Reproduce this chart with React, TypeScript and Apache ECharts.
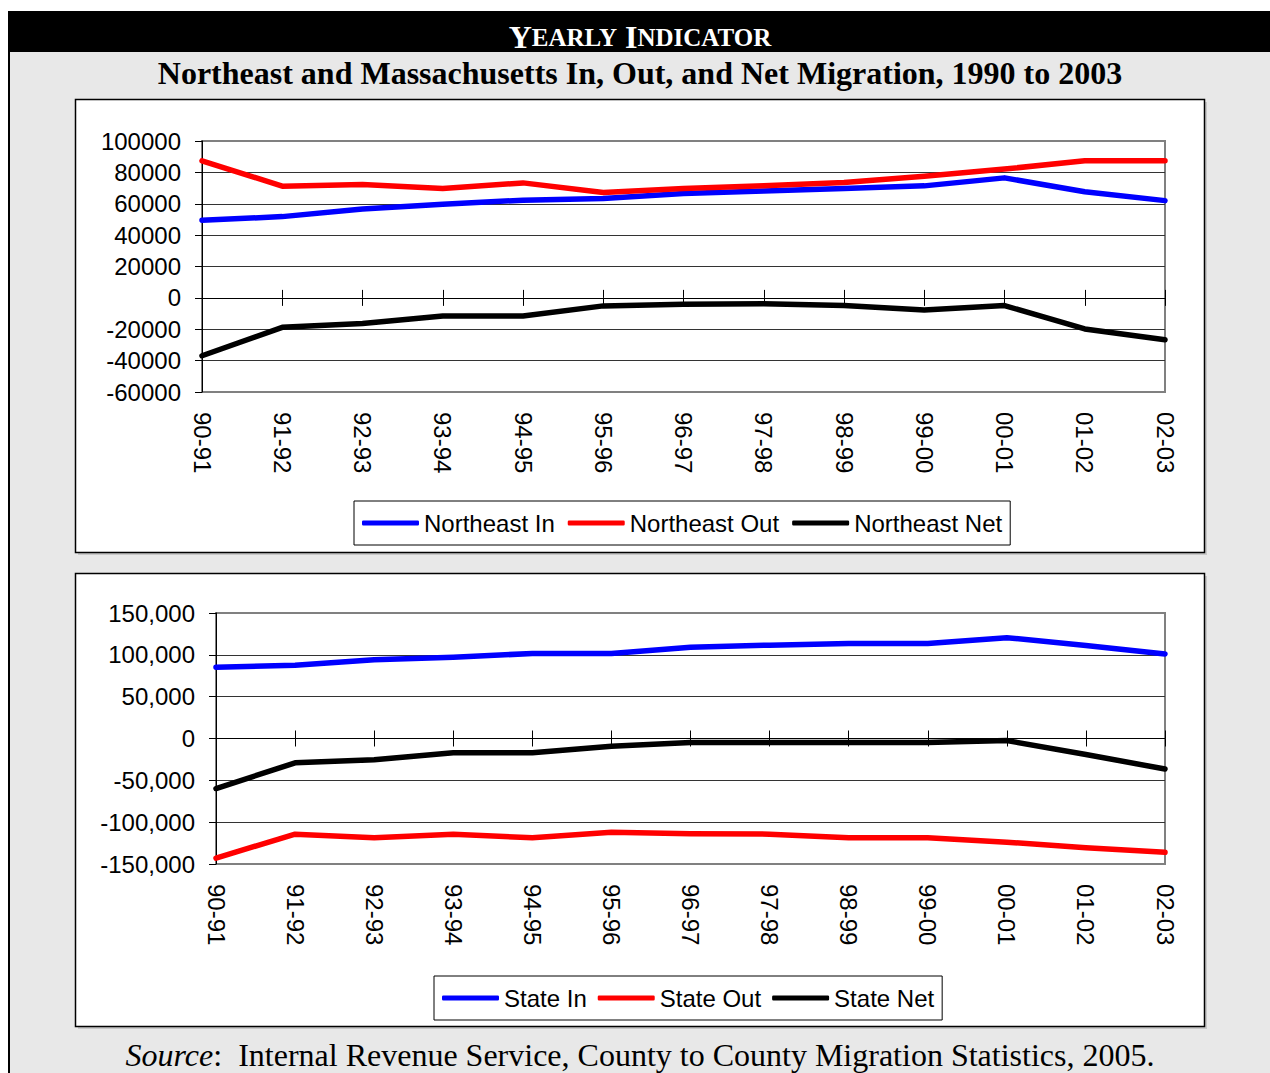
import React, { useEffect, useRef } from "react";
import * as echarts from "echarts";

const categories = ["90-91", "91-92", "92-93", "93-94", "94-95", "95-96", "96-97", "97-98", "98-99", "99-00", "00-01", "01-02", "02-03"];

const northeastIn = [49500, 51800, 56700, 59700, 62300, 63300, 66500, 68200, 69700, 71400, 76500, 67600, 62000];
const northeastOut = [87400, 71200, 72300, 69700, 73300, 67200, 69700, 71400, 73600, 77600, 82100, 87400, 87400];
const northeastNet = [-36900, -18800, -16400, -11500, -11500, -5100, -4100, -3800, -4900, -7700, -4900, -19800, -26700];

const stateIn = [85300, 87600, 94000, 97200, 101600, 101600, 109200, 111600, 113500, 113500, 120500, 111200, 101000];
const stateOut = [-143000, -114300, -118700, -114300, -118700, -112000, -113900, -114300, -118700, -118700, -123900, -130700, -136000];
const stateNet = [-59800, -29100, -25500, -17100, -17100, -9200, -4800, -4800, -4800, -4800, -2500, -19100, -36500];

const topTicks = { min: -60000, max: 100000, interval: 20000 };
const bottomTicks = { min: -150000, max: 150000, interval: 50000 };

const SANS = "Liberation Sans";
const SERIF = "Liberation Serif";
const BLUE = "#0000ff";
const RED = "#ff0000";
const BLACK = "#000000";

function xAxes(gridIndex: number, hiddenY: number) {
  return [
    {
      gridIndex,
      type: "category",
      data: categories,
      boundaryGap: false,
      position: "bottom",
      axisLine: { show: false, onZero: false },
      axisTick: { show: false },
      splitLine: { show: false },
      axisLabel: { rotate: -90, margin: 20, fontSize: 24, fontFamily: SANS, color: "#000" },
    },
    {
      gridIndex,
      type: "category",
      data: categories,
      boundaryGap: false,
      position: "bottom",
      axisLine: { show: true, onZero: true, lineStyle: { color: "#000", width: 1 } },
      axisTick: { show: true, length: 8, lineStyle: { color: "#000", width: 1 } },
      axisLabel: { show: false },
      splitLine: { show: false },
    },
    {
      gridIndex,
      type: "category",
      data: categories,
      boundaryGap: false,
      position: "top",
      axisLine: { show: false, onZero: true, onZeroAxisIndex: hiddenY },
      axisTick: { show: true, length: 8, lineStyle: { color: "#000", width: 1 } },
      axisLabel: { show: false },
      splitLine: { show: false },
    },
  ];
}

function yAxis(gridIndex: number, ticks: { min: number; max: number; interval: number }, fmt?: (v: number) => string) {
  return {
    gridIndex,
    type: "value",
    position: "left",
    min: ticks.min,
    max: ticks.max,
    interval: ticks.interval,
    axisLine: { show: true, onZero: false, lineStyle: { color: "#000", width: 1 } },
    axisTick: { show: true, length: 7, lineStyle: { color: "#000" } },
    axisLabel: {
      fontSize: 24,
      fontFamily: SANS,
      color: "#000",
      margin: 21,
      formatter: fmt ? (v: number) => fmt(v) : (v: number) => String(v),
    },
    splitLine: { show: true, showMinLine: false, showMaxLine: false, lineStyle: { color: "#333", width: 1 } },
  };
}

function hiddenYAxis(gridIndex: number, ticks: { min: number; max: number; interval: number }) {
  return {
    gridIndex,
    type: "value",
    position: "right",
    min: ticks.min,
    max: ticks.max,
    interval: ticks.interval,
    show: false,
    axisLine: { show: false, onZero: false },
    axisTick: { show: false },
    axisLabel: { show: false },
    splitLine: { show: false },
  };
}

function lineSeries(name: string, data: number[], color: string, axisBase: number, yIndex: number) {
  return {
    name,
    type: "line",
    data,
    xAxisIndex: axisBase,
    yAxisIndex: yIndex,
    symbol: "none",
    showSymbol: false,
    smooth: false,
    color,
    lineStyle: { color, width: 5.5, cap: "round", join: "round" },
  };
}

function legend(names: string[], left: number, top: number, gap: number) {
  return {
    data: names,
    left,
    top,
    orient: "horizontal",
    icon: "roundRect",
    itemWidth: 57,
    itemHeight: 5,
    itemGap: gap,
    padding: [10, 8, 10, 8],
    borderColor: "#000",
    borderWidth: 1,
    backgroundColor: "#fff",
    textStyle: { fontSize: 24, fontFamily: SANS, color: "#000", lineHeight: 24 },
  };
}

export default function App() {
  const ref = useRef<HTMLDivElement>(null);

  useEffect(() => {
    if (!ref.current) return;
    const chart = echarts.init(ref.current, undefined, { renderer: "svg" });
    const fmtComma = (v: number) => v.toLocaleString("en-US");

    const option: any = {
      animation: false,
      grid: [
        { left: 202, top: 141, width: 963, height: 251, show: true, borderColor: "#808080", borderWidth: 2, backgroundColor: "transparent", containLabel: false, outerBoundsMode: "none" },
        { left: 216, top: 613, width: 949, height: 251, show: true, borderColor: "#808080", borderWidth: 2, backgroundColor: "transparent", containLabel: false, outerBoundsMode: "none" },
      ],
      xAxis: [...xAxes(0, 1), ...xAxes(1, 3)],
      yAxis: [yAxis(0, topTicks), hiddenYAxis(0, topTicks), yAxis(1, bottomTicks, fmtComma), hiddenYAxis(1, bottomTicks)],
      legend: [
        legend(["Northeast In", "Northeast Out", "Northeast Net"], 354, 501, 13),
        legend(["State In", "State Out", "State Net"], 434, 976, 11),
      ],
      series: [
        lineSeries("Northeast In", northeastIn, BLUE, 0, 0),
        lineSeries("Northeast Out", northeastOut, RED, 0, 0),
        lineSeries("Northeast Net", northeastNet, BLACK, 0, 0),
        lineSeries("State In", stateIn, BLUE, 3, 2),
        lineSeries("State Out", stateOut, RED, 3, 2),
        lineSeries("State Net", stateNet, BLACK, 3, 2),
      ],
      graphic: {
        elements: [
          { type: "rect", z: -12, shape: { x: 8, y: 52, width: 1262, height: 1021 }, style: { fill: "#e8e8e8" } },
          { type: "rect", z: -11, shape: { x: 8, y: 11, width: 1262, height: 41 }, style: { fill: "#000" } },
          { type: "rect", z: -11, shape: { x: 8, y: 52, width: 2, height: 1021 }, style: { fill: "#000" } },
          { type: "rect", z: -11, shape: { x: 78, y: 102, width: 1129, height: 453 }, style: { fill: "#c8c8c8" } },
          { type: "rect", z: -10, shape: { x: 75.5, y: 99.5, width: 1129, height: 453 }, style: { fill: "#fff", stroke: "#000", lineWidth: 1.5 } },
          { type: "rect", z: -11, shape: { x: 78, y: 576, width: 1129, height: 453 }, style: { fill: "#c8c8c8" } },
          { type: "rect", z: -10, shape: { x: 75.5, y: 573.5, width: 1129, height: 453 }, style: { fill: "#fff", stroke: "#000", lineWidth: 1.5 } },
          {
            type: "text",
            z: 10,
            style: {
              x: 640,
              y: 37,
              align: "center",
              verticalAlign: "middle",
              text: "{b|Y}{s|EARLY} {b|I}{s|NDICATOR}",
              fill: "#fff",
              rich: {
                b: { fontSize: 32, fontWeight: "bold", fontFamily: SERIF, fill: "#fff", color: "#fff" },
                s: { fontSize: 25, fontWeight: "bold", fontFamily: SERIF, fill: "#fff", color: "#fff" },
              },
              fontSize: 32,
              fontWeight: "bold",
              fontFamily: SERIF,
            },
          },
          {
            type: "text",
            z: 10,
            style: {
              x: 640,
              y: 73,
              align: "center",
              verticalAlign: "middle",
              text: "Northeast and Massachusetts In, Out, and Net Migration, 1990 to 2003",
              fill: "#000",
              fontSize: 32,
              fontWeight: "bold",
              fontFamily: SERIF,
            },
          },
          {
            type: "text",
            z: 10,
            style: {
              x: 640,
              y: 1055,
              align: "center",
              verticalAlign: "middle",
              text: "{i|Source}{r|:  Internal Revenue Service, County to County Migration Statistics, 2005.}",
              fill: "#000",
              fontSize: 32,
              fontFamily: SERIF,
              rich: {
                i: { fontSize: 32, fontStyle: "italic", fontFamily: SERIF, fill: "#000", color: "#000" },
                r: { fontSize: 32, fontFamily: SERIF, fill: "#000", color: "#000" },
              },
            },
          },
        ],
      },
    };

    chart.setOption(option);
    return () => chart.dispose();
  }, []);

  return <div ref={ref} style={{ position: "absolute", left: 0, top: 0, width: 1270, height: 1073 }} />;
}
